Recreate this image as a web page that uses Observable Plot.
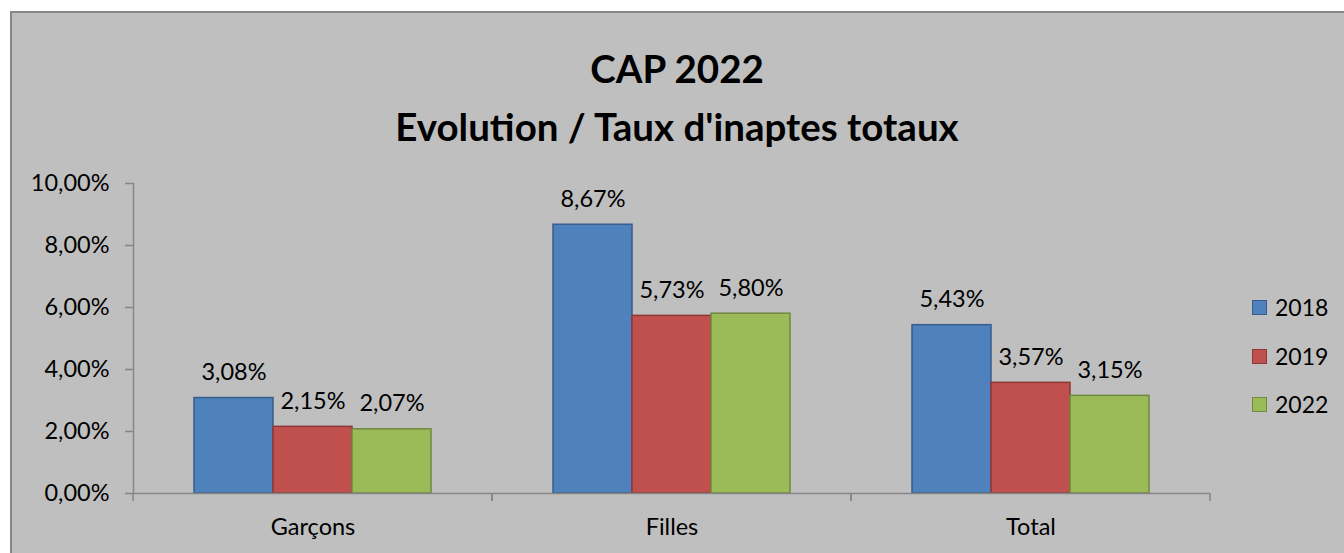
<!DOCTYPE html>
<html>
<head>
<meta charset="utf-8">
<script src="https://cdn.jsdelivr.net/npm/d3@7"></script>
<script src="https://cdn.jsdelivr.net/npm/@observablehq/plot@0.6"></script>
<style>
  html, body { margin: 0; padding: 0; background: #ffffff; width: 1344px; height: 553px; overflow: hidden; }
  body { position: relative; font-family: Lato, "Open Sans", sans-serif; }
  #box { position: absolute; left: 10px; top: 11px; width: 1345px; height: 560px; background: #bfbfbf; border: 2px solid #878787; box-sizing: border-box; }
  .title { position: absolute; left: 0; width: 1354px; text-align: center; font-weight: bold; font-size: 38.5px; line-height: 1; color: #000; white-space: nowrap; }
  #chart { position: absolute; left: 0; top: 150px; }
  #legend { position: absolute; left: 1252px; top: 294px; font-size: 23px; color: #000; }
  .item { position: relative; height: 48.5px; }
  .sw { position: absolute; left: 0; top: 6px; width: 13px; height: 13px; border: 1.5px solid; }
  .lab { position: absolute; left: 23px; top: 0; line-height: 26px; }
</style>
</head>
<body>
<div id="box"></div>
<div class="title" id="t1" style="top:49px"></div>
<div class="title" id="t2" style="top:107px"></div>
<div id="chart"></div>
<div id="legend"></div>
<script>
const titleLines = ["CAP 2022", "Evolution / Taux d'inaptes totaux"];
const categories = ["Garçons", "Filles", "Total"];
const years = ["2018", "2019", "2022"];
const values2018 = [3.08, 8.67, 5.43];
const values2019 = [2.15, 5.73, 3.57];
const values2022 = [2.07, 5.80, 3.15];
const yTicks = [0, 2, 4, 6, 8, 10];
const fills = ["#4f81bd", "#c0504d", "#9bbb59"];
const strokes = ["#385d8a", "#8c3836", "#71893f"];

const seriesValues = [values2018, values2019, values2022];
const data = categories.flatMap((c, i) => years.map((y, j) => ({category: c, year: y, value: seriesValues[j][i]})));
const fmt = v => v.toFixed(2).replace(".", ",") + "%";

document.getElementById("t1").textContent = titleLines[0];
document.getElementById("t2").textContent = titleLines[1];

const axisColor = "#868686";

function boundaryTicks(index, scales) {
  const {x, y} = scales;
  const [a, b] = x.range();
  const y0 = y(0);
  const g = d3.create("svg:g").attr("stroke", axisColor).attr("stroke-width", 1.5);
  for (const xx of [a, b]) {
    g.append("line").attr("x1", xx).attr("x2", xx).attr("y1", y0).attr("y2", y0 + 8);
  }
  return g.node();
}

const chart = Plot.plot({
  width: 1344,
  height: 390,
  marginLeft: 132,
  marginRight: 134,
  marginTop: 33,
  marginBottom: 47,
  style: {background: "transparent", fontFamily: "Lato, 'Open Sans', sans-serif", fontSize: "23px", color: "#000", overflow: "visible"},
  fx: {domain: categories, padding: 0, label: null},
  x: {domain: years, paddingInner: 0, paddingOuter: 0.75, axis: null},
  y: {domain: [0, 10], label: null},
  marks: [
    ...years.map((yr, j) => Plot.barY(data.filter(d => d.year === yr), {
      fx: "category", x: "year", y: "value",
      fill: fills[j], stroke: strokes[j], strokeWidth: 1.5
    })),
    Plot.text(data, {fx: "category", x: "year", y: "value", text: d => fmt(d.value), lineAnchor: "bottom", dy: -18, fontSize: 23.5, fill: "#000"}),
    Plot.ruleY([0], {stroke: axisColor, strokeWidth: 1.5}),
    Plot.frame({anchor: "left", facetAnchor: "left", stroke: axisColor, strokeWidth: 1.5}),
    boundaryTicks,
    Plot.axisY({ticks: yTicks, tickSize: 8, tickPadding: 16, tickFormat: fmt, stroke: axisColor, strokeWidth: 1.5, color: "#000", fontSize: 23.5, label: null}),
    Plot.axisFx({anchor: "bottom", tickSize: 0, tickPadding: 25, fontSize: 23.5, color: "#000", label: null})
  ]
});
document.getElementById("chart").appendChild(chart);

const legend = d3.select("#legend");
years.forEach((yr, j) => {
  const it = legend.append("div").attr("class", "item");
  it.append("div").attr("class", "sw").style("background", fills[j]).style("border-color", strokes[j]);
  it.append("div").attr("class", "lab").text(yr);
});
</script>
</body>
</html>
